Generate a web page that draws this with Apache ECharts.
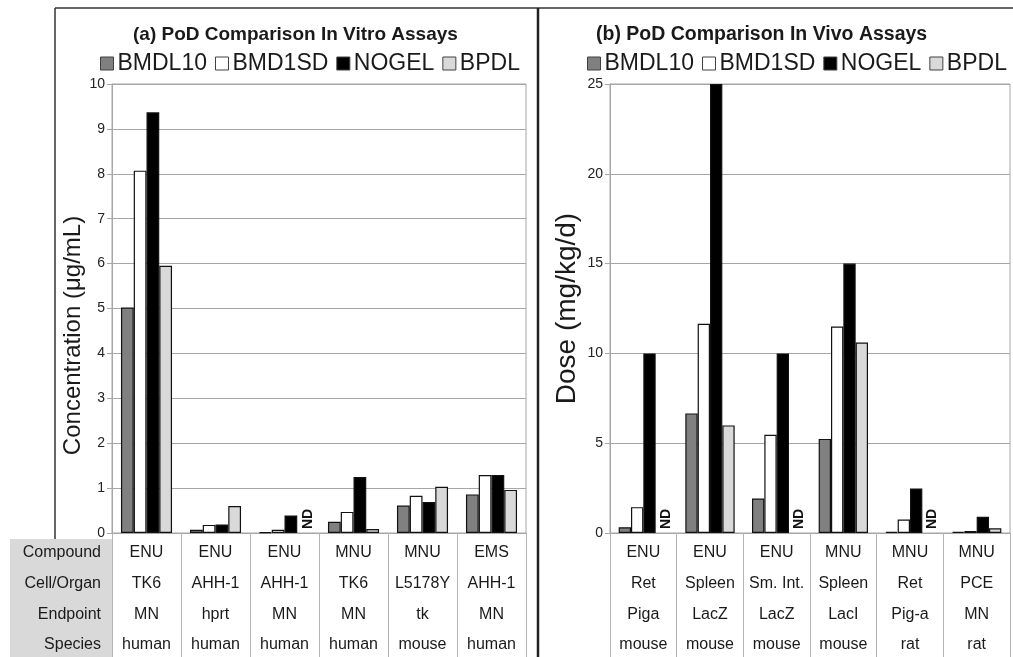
<!DOCTYPE html>
<html>
<head>
<meta charset="utf-8">
<script src="https://cdn.jsdelivr.net/npm/echarts@6/dist/echarts.min.js"></script>
<style>html,body{margin:0;padding:0;background:#fff}#c{width:1013px;height:657px}</style>
</head>
<body>
<div id="c"></div>
<script>
// ---- Data ----
const seriesNames = ['BMDL10', 'BMD1SD', 'NOGEL', 'BPDL'];
const rowHeaders = ['Compound', 'Cell/Organ', 'Endpoint', 'Species'];

// (a) in vitro
const compoundsA = ['ENU', 'ENU', 'ENU', 'MNU', 'MNU', 'EMS'];
const cellA = ['TK6', 'AHH-1', 'AHH-1', 'TK6', 'L5178Y', 'AHH-1'];
const endpointA = ['MN', 'hprt', 'MN', 'MN', 'tk', 'MN'];
const speciesA = ['human', 'human', 'human', 'human', 'mouse', 'human'];
const bmdl10A = [5.02, 0.07, 0.02, 0.25, 0.61, 0.86];
const bmd1sdA = [8.07, 0.18, 0.07, 0.47, 0.83, 1.29];
const nogelA = [9.37, 0.19, 0.39, 1.25, 0.69, 1.29];
const bpdlA = [5.95, 0.60, null, 0.09, 1.03, 0.96];
const yTicksA = [0, 10, 1];

// (b) in vivo
const compoundsB = ['ENU', 'ENU', 'ENU', 'MNU', 'MNU', 'MNU'];
const cellB = ['Ret', 'Spleen', 'Sm. Int.', 'Spleen', 'Ret', 'PCE'];
const endpointB = ['Piga', 'LacZ', 'LacZ', 'LacI', 'Pig-a', 'MN'];
const speciesB = ['mouse', 'mouse', 'mouse', 'mouse', 'rat', 'rat'];
const bmdl10B = [0.32, 6.66, 1.92, 5.24, 0.06, 0.06];
const bmd1sdB = [1.44, 11.65, 5.47, 11.5, 0.75, 0.11];
const nogelB = [10, 25, 10, 15, 2.48, 0.9];
const bpdlB = [null, 5.99, null, 10.6, null, 0.26];
const yTicksB = [0, 25, 5];

// ---- Styles ----
const FONT = '"Liberation Sans", Arial, sans-serif';
const colors = ['#808080', '#ffffff', '#000000', '#d9d9d9'];
const gridGray = '#a6a6a6';

const chart = echarts.init(document.getElementById('c'));

function ndData(arr) {
  return arr.map(v => v === null ? {
    value: 0,
    itemStyle: { borderWidth: 0 },
    label: {
      show: true, formatter: 'ND', position: 'top', distance: 5, rotate: 90,
      align: 'left', verticalAlign: 'middle', offset: [-1, 4],
      fontFamily: FONT, fontSize: 14, fontWeight: 'bold', color: '#111'
    }
  } : v);
}

function tableAxes(gridIndex, rows) {
  const offsets = [0, 31, 62, 92];
  return rows.map((r, i) => ({
    type: 'category', gridIndex, data: r, position: 'bottom', offset: offsets[i],
    axisLine: { show: i === 0, lineStyle: { color: gridGray } },
    axisTick: { show: i === 0, interval: 0, length: 124, lineStyle: { color: '#b3b3b3' } },
    axisLabel: { interval: 0, margin: 12, fontFamily: FONT, fontSize: 16, color: '#1a1a1a' },
    splitLine: { show: false }
  }));
}

function yAxis(gridIndex, t, name, nameSize, nameGap, pad) {
  return {
    type: 'value', gridIndex, min: t[0], max: t[1], interval: t[2],
    name, nameLocation: 'middle', nameGap,
    nameTextStyle: { fontFamily: FONT, fontSize: nameSize, color: '#1a1a1a', padding: pad },
    axisLine: { show: true, lineStyle: { color: gridGray } },
    axisTick: { show: true, length: 5, lineStyle: { color: gridGray } },
    axisLabel: { margin: 7, fontFamily: FONT, fontSize: 14, color: '#222' },
    splitLine: { show: true, lineStyle: { color: gridGray, width: 1 } }
  };
}

function barSeries(name, data, xi, yi, color) {
  return {
    type: 'bar', name, data, xAxisIndex: xi, yAxisIndex: yi,
    barGap: '0%', barCategoryGap: '26%',
    itemStyle: { color, borderColor: '#111', borderWidth: 1.2 },
    emphasis: { disabled: true },
    animation: false
  };
}

const legendBase = {
  data: seriesNames, icon: 'rect', itemWidth: 13, itemHeight: 13, itemGap: 8,
  textStyle: { fontFamily: FONT, fontSize: 23, color: '#1a1a1a', padding: [0, 0, 0, -1] },
  itemStyle: { borderColor: '#404040', borderWidth: 1 },
  top: 47
};

const option = {
  animation: false,
  backgroundColor: '#fff',
  title: [
    { text: '(a) PoD Comparison In Vitro Assays', left: 128, top: 20,
      textStyle: { fontFamily: FONT, fontSize: 19, fontWeight: 'bold', color: '#1a1a1a' } },
    { text: '(b) PoD Comparison In Vivo Assays', left: 591, top: 20,
      textStyle: { fontFamily: FONT, fontSize: 19.5, fontWeight: 'bold', color: '#1a1a1a' } }
  ],
  legend: [
    Object.assign({}, legendBase, { left: 95 }),
    Object.assign({}, legendBase, { left: 582 })
  ],
  grid: [
    { left: 112, top: 84, width: 414, height: 449, show: true, borderColor: gridGray, borderWidth: 1, containLabel: false },
    { left: 610, top: 84, width: 400, height: 449, show: true, borderColor: gridGray, borderWidth: 1, containLabel: false }
  ],
  xAxis: [].concat(
    tableAxes(0, [compoundsA, cellA, endpointA, speciesA]),
    tableAxes(1, [compoundsB, cellB, endpointB, speciesB])
  ),
  yAxis: [
    yAxis(0, yTicksA, 'Concentration (μg/mL)', 24, 26, [0, 54, 0, 0]),
    yAxis(1, yTicksB, 'Dose (mg/kg/d)', 28, 29, [0, 0, 0, 0])
  ],
  series: [
    barSeries('BMDL10', bmdl10A, 0, 0, colors[0]),
    barSeries('BMD1SD', bmd1sdA, 0, 0, colors[1]),
    barSeries('NOGEL', nogelA, 0, 0, colors[2]),
    barSeries('BPDL', ndData(bpdlA), 0, 0, colors[3]),
    barSeries('BMDL10', bmdl10B, 4, 1, colors[0]),
    barSeries('BMD1SD', bmd1sdB, 4, 1, colors[1]),
    barSeries('NOGEL', nogelB, 4, 1, colors[2]),
    barSeries('BPDL', ndData(bpdlB), 4, 1, colors[3])
  ],
  graphic: [
    { type: 'rect', z: -1, shape: { x: 10, y: 539, width: 102, height: 120 }, style: { fill: '#d9d9d9' } },
    { type: 'line', shape: { x1: 55, y1: 8, x2: 1013, y2: 8 }, style: { stroke: '#333', lineWidth: 1.5 } },
    { type: 'line', shape: { x1: 55, y1: 8, x2: 55, y2: 539 }, style: { stroke: '#333', lineWidth: 1.5 } },
    { type: 'line', shape: { x1: 538, y1: 8, x2: 538, y2: 657 }, style: { stroke: '#222', lineWidth: 2.5 } }
  ].concat(rowHeaders.map((h, i) => ({
    type: 'text', x: 101, y: [553, 584, 615, 645][i],
    style: { text: h, fontFamily: FONT, fontSize: 16, fill: '#1a1a1a', align: 'right', verticalAlign: 'middle' }
  })))
};

chart.setOption(option);
</script>
</body>
</html>
